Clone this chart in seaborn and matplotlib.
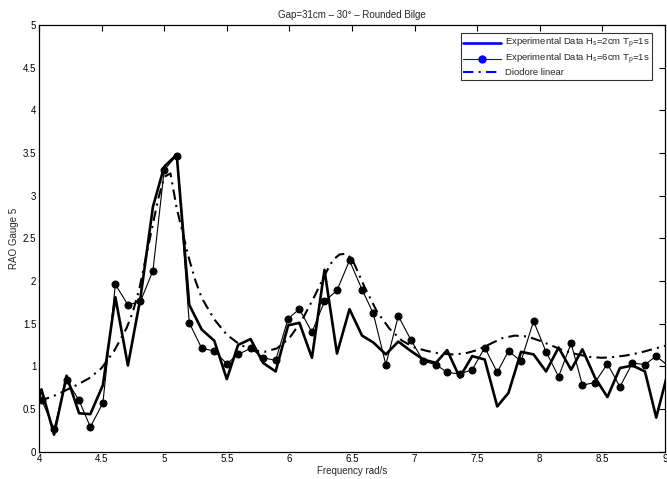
import matplotlib
matplotlib.use("Agg")
import matplotlib.pyplot as plt
import pandas as pd
import seaborn as sns
from matplotlib.lines import Line2D

# measured frequencies (rad/s), incl. one clipped point at each edge
freq = [3.92, 4.02, 4.12, 4.22, 4.32, 4.41, 4.51, 4.61, 4.71, 4.81, 4.91,
        5.00, 5.10, 5.20, 5.30, 5.40, 5.50, 5.59, 5.69, 5.79, 5.89,
        5.99, 6.08, 6.18, 6.28, 6.38, 6.48, 6.58, 6.67, 6.77, 6.87,
        6.97, 7.07, 7.17, 7.26, 7.36, 7.46, 7.56, 7.66, 7.75, 7.85,
        7.95, 8.05, 8.15, 8.25, 8.34, 8.44, 8.54, 8.64, 8.74, 8.84,
        8.93, 9.03]

rao_hs2 = [0.20, 0.73, 0.20, 0.89, 0.45, 0.44, 0.78, 1.81, 1.01, 1.80, 2.87,
           3.34, 3.48, 1.72, 1.43, 1.30, 0.85, 1.25, 1.32, 1.04, 0.94,
           1.48, 1.51, 1.10, 2.13, 1.15, 1.67, 1.36, 1.28, 1.14, 1.29,
           1.18, 1.08, 1.04, 1.19, 0.87, 1.12, 1.08, 0.53, 0.69, 1.17,
           1.14, 0.94, 1.22, 0.96, 1.20, 0.87, 0.64, 0.98, 1.01, 0.94,
           0.40, 0.97]

rao_hs6 = [0.25, 0.61, 0.27, 0.84, 0.60, 0.29, 0.57, 1.96, 1.72, 1.76, 2.12,
           3.30, 3.47, 1.51, 1.21, 1.18, 1.03, 1.14, 1.21, 1.10, 1.07,
           1.56, 1.67, 1.40, 1.76, 1.89, 2.24, 1.90, 1.62, 1.02, 1.59,
           1.31, 1.06, 1.02, 0.93, 0.91, 0.96, 1.22, 0.93, 1.18, 1.06,
           1.53, 1.17, 0.88, 1.27, 0.78, 0.81, 1.03, 0.76, 1.04, 1.02,
           1.12, 1.00]

diodore_freq = [4.0, 4.1, 4.2, 4.3, 4.4, 4.5, 4.6, 4.7, 4.75, 4.8, 4.9, 4.95,
                5.0, 5.05, 5.1, 5.15, 5.2, 5.25, 5.3, 5.4, 5.5, 5.6, 5.7,
                5.8, 5.9, 6.0, 6.1, 6.2, 6.3, 6.35, 6.4, 6.45, 6.5, 6.6,
                6.7, 6.8, 6.9, 7.0, 7.1, 7.2, 7.3, 7.4, 7.5, 7.6, 7.7,
                7.8, 7.9, 8.0, 8.1, 8.2, 8.3, 8.4, 8.5, 8.6, 8.7, 8.8,
                8.9, 9.0]
diodore_rao = [0.60, 0.64, 0.71, 0.78, 0.86, 0.98, 1.18, 1.45, 1.64, 1.90,
               2.60, 2.95, 3.22, 3.26, 2.85, 2.55, 2.25, 2.00, 1.80, 1.55,
               1.37, 1.26, 1.19, 1.17, 1.21, 1.33, 1.54, 1.82, 2.12, 2.25,
               2.31, 2.32, 2.26, 1.93, 1.64, 1.44, 1.30, 1.22, 1.18, 1.15,
               1.14, 1.15, 1.19, 1.26, 1.33, 1.36, 1.35, 1.30, 1.24, 1.18,
               1.14, 1.11, 1.10, 1.11, 1.13, 1.16, 1.20, 1.24]

title = "Gap=31cm \u2013 30\u00b0 \u2013 Rounded Bilge"
legend_labels = [
    r"Experimental Data H$_\mathregular{s}$=2cm T$_\mathregular{p}$=1s",
    r"Experimental Data H$_\mathregular{s}$=6cm T$_\mathregular{p}$=1s",
    "Diodore linear",
]

sns.set_theme(style="white")
plt.rcParams["font.family"] = ["Liberation Sans", "DejaVu Sans"]
plt.rcParams["mathtext.default"] = "regular"

exp_df = pd.DataFrame({"freq": freq, "hs2": rao_hs2, "hs6": rao_hs6})
dio_df = pd.DataFrame({"freq": diodore_freq, "rao": diodore_rao})

fig = plt.figure(figsize=(6.67, 4.79), dpi=100)
ax = fig.add_axes([0.0585, 0.057, 0.9385, 0.891])

sns.lineplot(data=exp_df, x="freq", y="hs2", color="black", linewidth=1.9,
             estimator=None, sort=False, ax=ax)
sns.lineplot(data=exp_df, x="freq", y="hs6", color="black", linewidth=0.8,
             marker="o", markersize=5, markeredgecolor="black",
             estimator=None, sort=False, ax=ax)
sns.lineplot(data=dio_df, x="freq", y="rao", color="black", linewidth=1.5,
             linestyle=(0, (5, 2.5, 1, 2.5)), estimator=None, sort=False, ax=ax)

ax.set_xlim(4, 9)
ax.set_ylim(0, 5)
ax.set_xticks([4, 4.5, 5, 5.5, 6, 6.5, 7, 7.5, 8, 8.5, 9])
ax.set_xticklabels(["4", "4.5", "5", "5.5", "6", "6.5", "7", "7.5", "8", "8.5", "9"])
ax.set_yticks([0, 0.5, 1, 1.5, 2, 2.5, 3, 3.5, 4, 4.5, 5])
ax.set_yticklabels(["0", "0.5", "1", "1.5", "2", "2.5", "3", "3.5", "4", "4.5", "5"])
ax.tick_params(direction="in", top=True, right=True, length=4, width=0.8,
               labelsize=7, pad=2, colors="black")
for spine in ax.spines.values():
    spine.set_color("black")
    spine.set_linewidth(0.9)

ax.set_title(title, fontsize=7, pad=5)
ax.set_xlabel("Frequency rad/s", fontsize=7, labelpad=1)
ax.set_ylabel("RAO Gauge 5", fontsize=7, labelpad=3)

handles = [
    Line2D([], [], color="blue", linewidth=1.9),
    Line2D([], [], color="blue", linewidth=0.8, marker="o", markersize=5),
    Line2D([], [], color="blue", linewidth=1.5, linestyle=(0, (5, 2.5, 1, 2.5))),
]
leg = ax.legend(handles, legend_labels, loc="upper right",
                bbox_to_anchor=(0.98, 0.98), borderaxespad=0, fontsize=6.8,
                frameon=True, fancybox=False, edgecolor="black",
                handlelength=4.0, handletextpad=0.4, labelspacing=0.1,
                borderpad=0.3)
leg.get_frame().set_linewidth(0.8)

fig.savefig("out.png", dpi=100)
